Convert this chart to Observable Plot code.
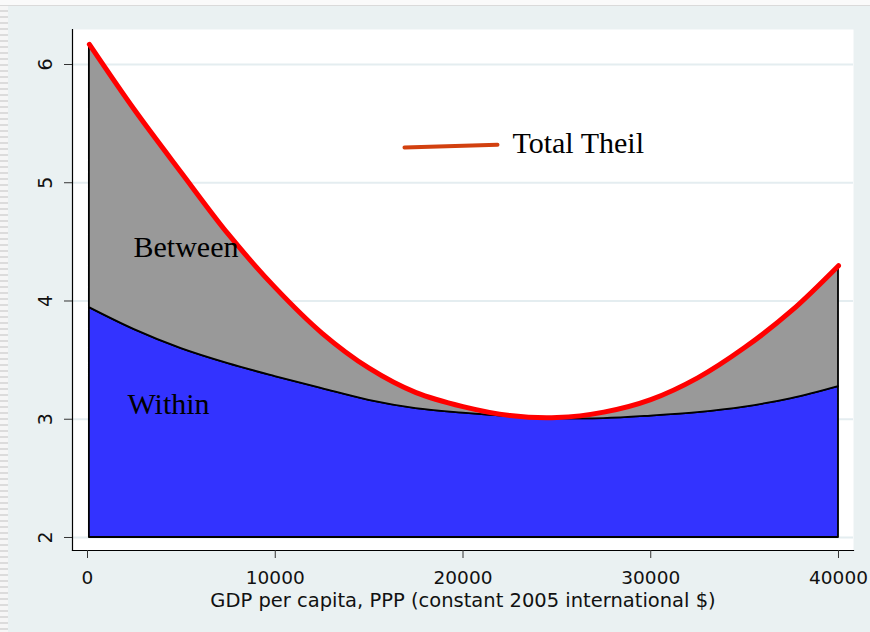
<!DOCTYPE html>
<html><head><meta charset="utf-8">
<script src="https://cdn.jsdelivr.net/npm/d3@7"></script>
<script src="https://cdn.jsdelivr.net/npm/@observablehq/plot@0.6"></script>
<style>
html,body{margin:0;padding:0;background:#eaf1f2;}
#wrap{position:relative;width:870px;height:632px;overflow:hidden;background:#eaf1f2;}
#stripe{position:absolute;left:0;top:0;width:8px;height:632px;background:repeating-linear-gradient(to bottom,#f6f6f6 0 4px,#dcdcdc 4px 6px);}
#topbar{position:absolute;left:0;top:0;width:870px;height:5px;background:#fafafa;border-bottom:1px solid #dadada;}
#chart{position:absolute;left:0;top:0;}
</style></head><body>
<div id="wrap"><div id="stripe"></div><div id="topbar"></div><div id="chart"></div></div>
<script>
// GDP per capita (x) and Theil index components
const gdp    = [100, 2500, 5000, 7500, 10000, 12500, 15000, 17500, 20000, 22500, 25000, 27500, 30000, 32500, 35000, 37500, 40000];
const total  = [6.17, 5.617, 5.085, 4.565, 4.113, 3.727, 3.432, 3.225, 3.107, 3.031, 3.014, 3.06, 3.166, 3.35, 3.606, 3.918, 4.299];
const within = [3.944, 3.758, 3.597, 3.47, 3.361, 3.259, 3.16, 3.09, 3.052, 3.023, 3.006, 3.006, 3.027, 3.056, 3.103, 3.175, 3.276];

const xTicks = [0, 10000, 20000, 30000, 40000];
const yTicks = [2, 3, 4, 5, 6];
const baseline = 2;

const xTitle = "GDP per capita, PPP (constant 2005 international $)";
const areaLabels = [
  {text: "Between", x: 2450, y: 4.368},
  {text: "Within",  x: 2130, y: 3.048}
];
const legendLine = [{x: 16884, y: 5.298}, {x: 21837, y: 5.321}];
const legendText = [{text: "Total Theil", x: 22636, y: 5.254}];

const data = gdp.map((x, i) => ({x, total: total[i], within: within[i]}));
const sans = "DejaVu Sans";
const serif = "Liberation Serif";

const chart = Plot.plot({
  width: 870, height: 632,
  marginLeft: 72, marginRight: 17, marginTop: 29, marginBottom: 82,
  x: {domain: [-799, 40799]},
  y: {domain: [1.89, 6.296]},
  style: {background: "transparent", fontFamily: sans},
  marks: [
    Plot.frame({fill: "white", stroke: null}),
    Plot.gridY(yTicks, {stroke: "#e4edf0", strokeOpacity: 1, strokeWidth: 2}),
    Plot.areaY(data, {x: "x", y1: baseline, y2: "within", fill: "#3333ff", stroke: "black", strokeWidth: 1.8, curve: "catmull-rom"}),
    Plot.areaY(data, {x: "x", y1: "within", y2: "total", fill: "#999999", stroke: "black", strokeWidth: 1.8, curve: "catmull-rom"}),
    Plot.line(data, {x: "x", y: "total", stroke: "#ff0000", strokeWidth: 5, curve: "catmull-rom", strokeLinecap: "round"}),
    Plot.frame({anchor: "left", stroke: "black", strokeWidth: 1.2}),
    Plot.frame({anchor: "bottom", stroke: "black", strokeWidth: 1.2}),
    Plot.axisX({ticks: xTicks, tickSize: 8, tickPadding: 12, fontSize: 18.5, label: null, tickFormat: d3.format("d"), stroke: "#333", fill: "#111"}),
    Plot.axisY({ticks: yTicks, tickSize: 8, tickFormat: () => "", label: null, stroke: "#333"}),
    Plot.text(yTicks, {y: d => d, text: d => String(d), frameAnchor: "left", dx: -27, rotate: -90, fontSize: 19, textAnchor: "middle", lineAnchor: "middle", fill: "#111"}),
    Plot.text([xTitle], {frameAnchor: "bottom", dy: 50, fontSize: 19.5, lineAnchor: "middle", fill: "#111"}),
    Plot.text(areaLabels, {x: "x", y: "y", text: "text", fontFamily: serif, fontSize: 30, textAnchor: "start", lineAnchor: "bottom", fill: "black"}),
    Plot.line(legendLine, {x: "x", y: "y", stroke: "#d2400f", strokeWidth: 4}),
    Plot.text(legendText, {x: "x", y: "y", text: "text", fontFamily: serif, fontSize: 30, textAnchor: "start", lineAnchor: "bottom", fill: "black"})
  ]
});
document.getElementById("chart").appendChild(chart);
</script></body></html>
